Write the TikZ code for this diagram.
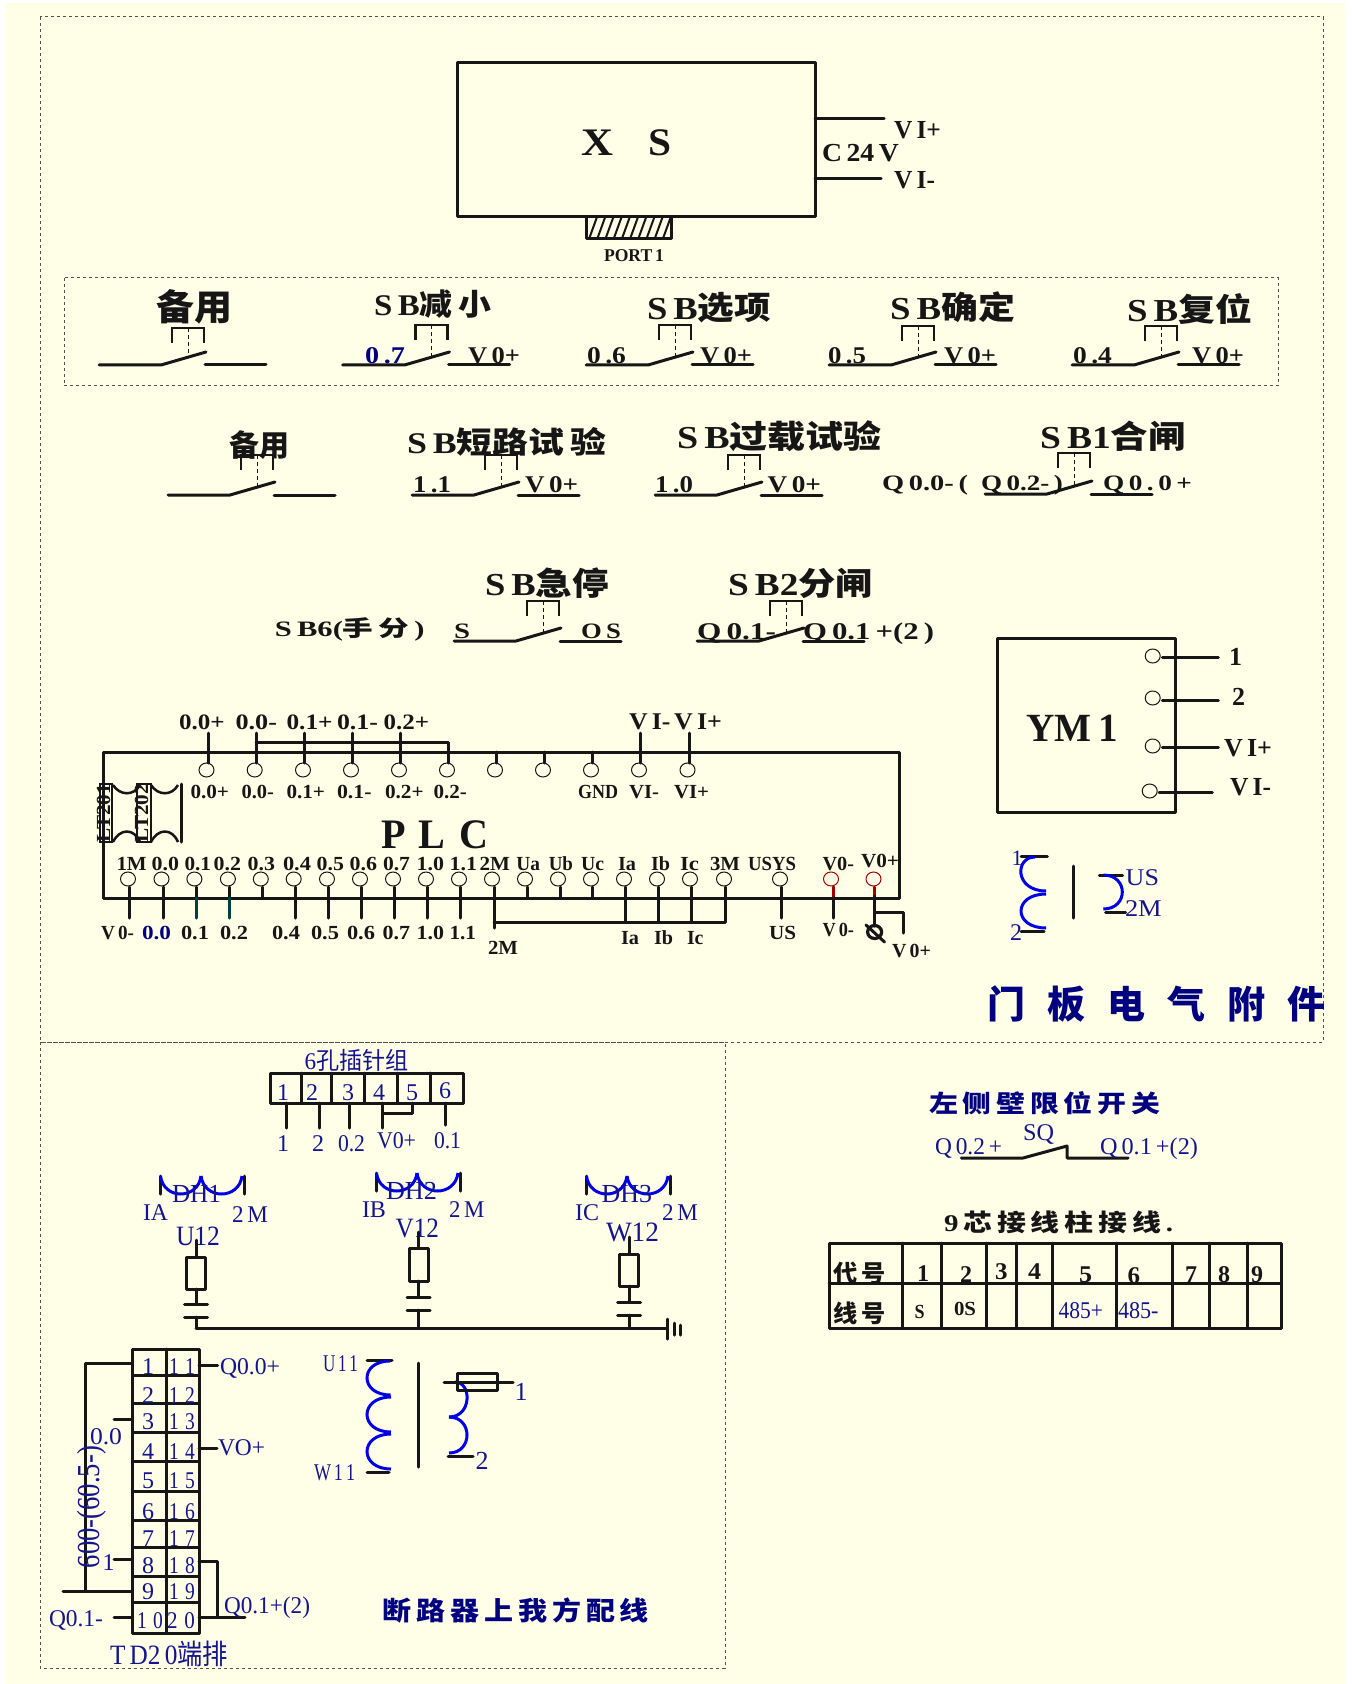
\documentclass[tikz,border=0pt]{standalone}
\usepackage{fontspec}
\usepackage{graphicx}
\setmainfont{Liberation Serif}
\newfontfamily\cjf{Noto Sans CJK SC}
\definecolor{bgc}{HTML}{FFFFE8}
\definecolor{ink}{HTML}{161616}
\definecolor{lblue}{HTML}{14148C}
\definecolor{navy}{HTML}{000080}
\definecolor{coilb}{HTML}{0000E6}
\definecolor{teal2}{HTML}{004040}
\definecolor{redh}{HTML}{A00000}
\newcommand\z[1]{{\cjf\bfseries #1}}
\newcommand\zr[1]{{\cjf\mdseries #1}}
\newcount\tcnt
\newcommand\tx[6][]{%
  \pgfmathsetmacro\tXc{(#2+#3)/2}%
  \pgfmathsetmacro\tYc{#4+0.33*#5}%
  \pgfmathsetmacro\tWd{(#3-#2)*0.5}%
  \pgfmathsetmacro\tFs{#5*0.5}%
  \global\advance\tcnt by 1
  \node[lab,#1] (t\the\tcnt) at (\tXc,\tYc) {\fontsize{\tFs pt}{\tFs pt}\selectfont\bfseries\resizebox{\tWd pt}{\height}{#6}};}
\newcommand\tu[5]{\tx[blu]{#1}{#2}{#3}{#4}{\mdseries #5}}
% switch: left x, line y, bracket top y
\newcommand\sw[3]{%
  \draw[wire] (#1,#2) -- ++(62,0) -- ++(45,-13);
  \draw[wire] (#1+106,#2) -- ++(61,0);
  \draw[thin2] (#1+73,#3+15) -- ++(0,-15) -- ++(32,0) -- ++(0,15);
  \draw[dsh] (#1+89,#3) -- (#1+89,#2-9);}
% coil bulging horizontally
\newcommand\coil[5]{%
  \pgfmathsetmacro\cC{(8*(#3)-(#1)-(#4))/6}%
  \draw[coil] (#1,#2) .. controls (\cC,#2) and (\cC,#5) .. (#4,#5);}
% bowl bulging vertically
\newcommand\bowl[4]{%
  \pgfmathsetmacro\cC{(8*(#4)-2*(#2))/6}%
  \draw[coil] (#1,#2) .. controls (#1+3,\cC) and (#3-3,\cC) .. (#3,#2);}
\tikzset{
  lab/.style={inner sep=0,anchor=base,text=ink},
  blu/.style={text=lblue},
  nav/.style={text=navy},
  wire/.style={draw=ink,line width=1.5pt,line cap=round,line join=round},
  thin2/.style={draw=ink,line width=1.25pt,line join=miter},
  dsh/.style={draw=ink,line width=.4pt,dash pattern=on 2pt off 1.5pt},
  frame/.style={draw=ink!75,line width=.5pt,dash pattern=on 1.5pt off 1.5pt},
  hole/.style={draw=ink,line width=.5pt},
  coil/.style={draw=coilb,line width=1.5pt},
}
\begin{document}
\begin{tikzpicture}[x=0.5pt,y=-0.5pt]
\useasboundingbox (0,0) rectangle (1352,1684);
\fill[white] (0,0) rectangle (1352,1684);
\fill[bgc] (5,3) rectangle (1345,1684);
% frames
\draw[frame] (40,17) rectangle (1323,1042);
\draw[frame] (40,1042) rectangle (725,1668);
\draw[frame] (64,278) rectangle (1278,386);
% XS
\draw[wire] (457,63) rectangle (815,217);
\draw[wire] (586,217) rectangle (671,239);
\foreach \i in {0,...,9} \draw[draw=ink,line width=1pt] (589+8.2*\i,239) -- (597+8.2*\i,217);
\draw[wire] (815,119) -- (884,119);
\draw[wire] (815,179) -- (881,179);
\tx{581}{613}{143}{39}{X}
\tx{648}{671}{143}{39}{S}
\tx{894}{941}{130}{26}{V\,I+}
\tx{822}{899}{153}{26}{C\,24\,V}
\tx{894}{935}{180}{26}{V\,I-}
\tx{604}{664}{256}{18}{PORT\,1}
% switches
\sw{99}{365}{328}
\sw{342.5}{365}{325}
\sw{586}{365}{325}
\sw{829}{365}{326}
\sw{1072}{365}{326}
\sw{168}{495}{455}
\sw{412}{495}{455}
\sw{655}{495}{455}
\sw{985}{494}{453}
\sw{454}{641}{601}
\sw{697}{641}{601}
% row 1 labels
\tx{156}{232}{309}{36}{\z{备用}}
\tx{374}{491}{306}{30}{S\,B\z{减\,小}}
\tx{647}{771}{309}{32}{S\,B\z{选项}}
\tx{890}{1015}{309}{32}{S\,B\z{确定}}
\tx{1127}{1252}{311}{32}{S\,B\z{复位}}
\tx[nav]{365}{405}{356}{24}{0\,.7}
\tx{468}{520}{356}{24}{V\,0+}
\tx{587}{626}{356}{24}{0\,.6}
\tx{700}{752}{356}{24}{V\,0+}
\tx{828}{866}{356}{24}{0\,.5}
\tx{944}{996}{356}{24}{V\,0+}
\tx{1073}{1112}{356}{24}{0\,.4}
\tx{1192}{1244}{356}{24}{V\,0+}
% row 2 labels
\tx{229}{289}{447}{30}{\z{备用}}
\tx{407}{606}{444}{30}{S\,B\z{短路试\,验}}
\tx{413}{451}{485}{24}{1\,.1}
\tx{525}{578}{485}{24}{V\,0+}
\tx{677}{882}{438}{32}{S\,B\z{过载试验}}
\tx{655}{693}{485}{24}{1\,.0}
\tx{767.5}{821}{485}{24}{V\,0+}
\tx{1040}{1186}{438}{32}{S\,B1\z{合闸}}
\tx{882}{968}{483}{22}{Q\,0.0-\,(}
\tx{981}{1063}{483}{22}{Q\,0.2-\,)}
\tx{1103}{1192}{483}{22}{Q\,0\,.\,0\,+}
% row 3 labels
\tx{485}{609}{585}{32}{S\,B\z{急停}}
\tx{728}{873}{585}{32}{S\,B2\z{分闸}}
\tx{275}{424.5}{629}{22}{S\,B6(\z{手\,分}\,)}
\tx{454}{470}{631}{22}{S}
\tx{581}{621}{631}{22}{O\,S}
\tx{697}{776}{632}{24}{Q\,0.1-}
\tx{803}{934}{632}{24}{Q\,0.1\,+(2\,)}
% PLC
\draw[wire] (103,752) rectangle (899,898);
\foreach \x in {206.5,254.7,303,351,399,447,495,543,591,639,687.5} {
  \draw[hole] (\x,770) ellipse [x radius=7.5,y radius=7];
  \draw[wire] (\x+1.5,752) -- (\x+1.5,763);
}
\foreach \x in {208,256,304.5,352.5,400.5,640.5,689} \draw[wire] (\x,733) -- (\x,752);
\draw[wire] (256,742) -- (448.5,742) -- (448.5,752);
\tx{179}{224.6}{722}{22}{0.0+}
\tx{235.5}{277}{722}{22}{0.0-}
\tx{286.5}{332.6}{722}{22}{0.1+}
\tx{337}{378}{722}{22}{0.1-}
\tx{383.6}{429}{722}{22}{0.2+}
\tx{629}{670.5}{722}{24}{V\,I-}
\tx{674}{722}{722}{24}{V\,I+}
\tx{190.5}{229}{792}{20}{0.0+}
\tx{241.6}{274}{792}{20}{0.0-}
\tx{286.5}{325}{792}{20}{0.1+}
\tx{337}{371.6}{792}{20}{0.1-}
\tx{385}{423.7}{792}{20}{0.2+}
\tx{433.6}{467}{792}{20}{0.2-}
\tx{578}{618}{792}{20}{GND}
\tx{629}{659}{792}{20}{VI-}
\tx{674}{709}{792}{20}{VI+}
\tx{381}{488}{835}{42}{P\,\,L\,\,C}
% left connectors
\draw[thin2] (100,784) rectangle (112,842);
\draw[thin2] (137,784) rectangle (151,842);
\draw[wire] (181,784) -- (181,842);
\draw[thin2] (113,785) .. controls (120,796) and (134,796) .. (140,785);
\draw[thin2] (151,785) .. controls (158,796) and (172,796) .. (178,785);
\draw[thin2] (113,842) .. controls (120,828) and (134,828) .. (140,842);
\draw[thin2] (151,842) .. controls (158,828) and (172,828) .. (178,842);
\node[lab,rotate=90] (p1) at (110,813) {\fontsize{10pt}{10pt}\selectfont\bfseries\resizebox{29pt}{\height}{LT201}};
\node[lab,rotate=90] (p2) at (148,813) {\fontsize{10pt}{10pt}\selectfont\bfseries\resizebox{29pt}{\height}{LT202}};
% lower holes
\foreach \x in {128,161.5,194.4,227.9,260.8,293.7,327,360,393,426,459,492,525,558,591,624,657,690,724,780}
  \draw[hole] (\x,879) ellipse [x radius=7.5,y radius=7];
\foreach \x in {831,873.5} \draw[hole,draw=redh] (\x,879) ellipse [x radius=7.5,y radius=7];
\foreach \x in {129.7,163,295,328,361,394.6,427.5,460.4,781,833} \draw[wire] (\x,887) -- (\x,918);
\foreach \x in {196,229} {\draw[wire] (\x,887) -- (\x,898); \draw[wire,draw=teal2] (\x,898) -- (\x,918);}
\foreach \x in {262.4,527,560,592.6} \draw[wire] (\x,887) -- (\x,898);
\draw[wire] (494,887) -- (494,928);
\foreach \x in {625.6,658.5,691.4,725} \draw[wire] (\x,887) -- (\x,922);
\draw[wire] (494,922) -- (725,922);
\draw[wire,draw=redh] (833,887) -- (833,896);
\draw[wire,draw=redh] (874.6,887) -- (874.6,896);
\draw[wire] (874.6,896) -- (874.6,926);
\draw[wire] (874.6,912) -- (903,912) -- (903,933);
\draw[draw=ink,line width=1.6pt] (874.6,932) ellipse [x radius=7,y radius=6.5];
\draw[wire] (866,925) -- (884.5,942);
\tx{116.5}{146.7}{864}{20}{1M}
\tx{151.6}{179}{864}{20}{0.0}
\tx{184.5}{211}{864}{20}{0.1}
\tx{213.6}{241}{864}{20}{0.2}
\tx{247.6}{275}{864}{20}{0.3}
\tx{283}{311}{864}{20}{0.4}
\tx{316.7}{344}{864}{20}{0.5}
\tx{349.6}{377}{864}{20}{0.6}
\tx{383}{410}{864}{20}{0.7}
\tx{416.6}{444}{864}{20}{1.0}
\tx{449.5}{477}{864}{20}{1.1}
\tx{479.6}{510}{864}{20}{2M}
\tx{516.4}{540}{864}{20}{Ua}
\tx{548.8}{573}{864}{20}{Ub}
\tx{581}{604}{864}{20}{Uc}
\tx{618}{636}{864}{20}{Ia}
\tx{651}{670}{864}{20}{Ib}
\tx{680}{699}{864}{20}{Ic}
\tx{710}{740}{864}{20}{3M}
\tx{748}{796}{864}{20}{USYS}
\tx{822.5}{854}{864}{20}{V0-}
\tx{861}{899}{861}{20}{V0+}
\tx{101}{134}{933}{20}{V\,0-}
\tx[nav]{142}{171}{933}{20}{0.0}
\tx{181}{209}{933}{20}{0.1}
\tx{220}{248}{933}{20}{0.2}
\tx{272}{300}{933}{20}{0.4}
\tx{311}{339}{933}{20}{0.5}
\tx{347}{375}{933}{20}{0.6}
\tx{382.5}{410}{933}{20}{0.7}
\tx{416.6}{444}{933}{20}{1.0}
\tx{449.5}{476}{933}{20}{1.1}
\tx{488}{518}{948}{20}{2M}
\tx{621}{639}{938}{20}{Ia}
\tx{654}{673}{938}{20}{Ib}
\tx{687}{703.5}{938}{20}{Ic}
\tx{769}{796}{933}{20}{US}
\tx{822.5}{854}{930}{20}{V\,0-}
\tx{892}{931}{951}{20}{V\,0+}
% YM1
\draw[wire] (997.7,638) rectangle (1175.7,812);
\foreach \x/\y in {1152.7/656,1152.7/698,1152.7/746,1149.7/791} \draw[hole] (\x,\y) ellipse [x radius=7.5,y radius=7];
\draw[wire] (1162.3,657) -- (1218.3,657);
\draw[wire] (1162.3,700) -- (1218.3,700);
\draw[wire] (1162.3,747) -- (1218.3,747);
\draw[wire] (1159,792) -- (1212.3,792);
\tx{1229}{1242}{657}{26}{1}
\tx{1232}{1245}{697}{26}{2}
\tx{1224}{1272}{748}{26}{V\,I+}
\tx{1230}{1271}{787}{26}{V\,I-}
\tx{1026.7}{1118}{728}{40}{YM\,1}
% small transformer
\draw[wire] (1021,856) -- (1047.3,856);
\draw[wire] (1021,931) -- (1044,931);
\coil{1035}{857}{1021}{1046}{891}
\coil{1046}{894}{1021}{1046}{928}
\draw[wire] (1073.3,866) -- (1073.3,918);
\draw[wire] (1099.3,875) -- (1122.7,875);
\draw[wire] (1105.7,912) -- (1125.7,912);
\coil{1103.3}{875}{1122.3}{1103.3}{909}
\tu{1011.5}{1022.5}{858}{22}{1}
\tu{1010}{1022}{933}{24}{2}
\tu{1125.7}{1159}{878}{24}{US}
\tu{1125}{1161.7}{909}{24}{2M}
\tx[nav]{987}{1325}{1006}{38}{\z{门\hspace{.58em}板\hspace{.58em}电\hspace{.58em}气\hspace{.58em}附\hspace{.58em}件}}
% 6-pin block
\draw[wire] (270.7,1073) rectangle (463.7,1103);
\foreach \x in {301,331.4,364,397,430} \draw[wire] (\x,1073) -- (\x,1103);
\foreach \x in {286,319,349,382.6} \draw[wire] (\x,1103) -- (\x,1128);
\draw[wire] (445.5,1103) -- (445.5,1125);
\draw[wire] (412,1103) -- (412,1113) -- (382.6,1113);
\tu{304.5}{408.6}{1062}{24}{6\zr{孔插针组}}
\tu{277}{289}{1093}{24}{1}
\tu{306}{318}{1093}{24}{2}
\tu{342}{354}{1093}{24}{3}
\tu{373}{385}{1093}{24}{4}
\tu{406}{418}{1093}{24}{5}
\tu{439}{451}{1091}{24}{6}
\tu{277}{289}{1144}{24}{1}
\tu{312}{324}{1144}{24}{2}
\tu{338}{365}{1144}{24}{0.2}
\tu{377}{416}{1141}{24}{V0+}
\tu{434}{461}{1141}{24}{0.1}
% current transformers
\foreach \x/\y in {160/1176,376/1173,586/1176} {
  \draw[wire] (\x,\y) -- (\x,\y+18);
  \draw[wire] (\x+84.5,\y) -- (\x+84.5,\y+18);
  \bowl{\x+.5}{\y}{\x+41}{\y+18}
  \bowl{\x+41}{\y}{\x+82}{\y+18}
}
\tu{172}{221}{1194}{26}{DH1}
\tu{143}{168}{1213}{24}{IA}
\tu{232}{268}{1215}{24}{2\,M}
\tu{176}{220}{1236}{28}{U12}
\tu{386}{437}{1191}{26}{DH2}
\tu{362}{386}{1210}{24}{IB}
\tu{449}{484.5}{1210}{24}{2\,M}
\tu{395.6}{439}{1228}{28}{V12}
\tu{601.6}{652}{1194}{26}{DH3}
\tu{575}{599}{1213}{24}{IC}
\tu{662}{698}{1213}{24}{2\,M}
\tu{606}{659}{1232}{28}{W12}
% resistors/caps
\foreach \x/\a/\b/\c/\d/\e in {196/1240/1257/1289/1304/1317,418.6/1232/1248/1281/1297/1310,629/1237/1254/1286/1302/1315} {
  \draw[wire] (\x,\a) -- (\x,\b);
  \draw[wire] (\x-9.5,\b) rectangle (\x+9.5,\c);
  \draw[wire] (\x,\c) -- (\x,\d);
  \draw[wire] (\x-11.5,\d) -- (\x+11.5,\d);
  \draw[wire] (\x-11.5,\e) -- (\x+11.5,\e);
  \draw[wire] (\x,\e) -- (\x,1328);
}
\draw[wire] (196,1328) -- (667.5,1328);
\draw[wire] (667.5,1319) -- (667.5,1339);
\draw[wire] (674,1323) -- (674,1335);
\draw[wire] (680.5,1325) -- (680.5,1335);
% terminal block
\draw[wire] (132.7,1349) rectangle (199,1633);
\draw[wire] (166,1349) -- (166,1633);
\foreach \y in {1375.7,1403,1432,1461,1491,1520,1547,1576,1602} \draw[wire] (132.7,\y) -- (199,\y);
\draw[wire] (131.7,1363) -- (85,1363) -- (85,1591);
\draw[wire] (63,1591) -- (132,1591);
\draw[wire] (114,1419) -- (132,1419);
\draw[wire] (114,1559) -- (132,1559);
\draw[wire] (114,1617) -- (132,1617);
\draw[wire] (199,1365) -- (217.7,1365);
\draw[wire] (199,1448) -- (217,1448);
\draw[wire] (199,1561) -- (217,1561) -- (217,1617);
\draw[wire] (199,1617) -- (245,1617);
\foreach \n/\y in {1/1367,2/1396,3/1422,4/1452,5/1481,6/1512,7/1539,8/1566,9/1592} {\tu{142}{154}{\y}{24}{\n}}
\tu{137}{163}{1621}{24}{1\,\,0}
\foreach \n/\y in {1\,\,1/1367,1\,\,2/1396,1\,\,3/1422,1\,\,4/1452,1\,\,5/1481,1\,\,6/1512,1\,\,7/1539,1\,\,8/1566,1\,\,9/1592} {\tu{169}{195}{\y}{24}{\n}}
\tu{167}{195}{1621}{24}{2\,\,0}
\tu{220}{280}{1367}{24}{Q0.0+}
\tu{218}{265}{1448}{24}{VO+}
\tu{224}{310}{1606}{24}{Q0.1+(2)}
\tu{49}{103}{1619}{24}{Q0.1-}
\tu{90}{122}{1437}{24}{0.0}
\tu{102.5}{114.5}{1563}{24}{1}
\node[lab,blu,rotate=90] (r1) at (99,1507) {\fontsize{16pt}{16pt}\selectfont\mdseries\resizebox{61pt}{\height}{600-(60.5-)}};
\tu{110}{228}{1655}{28}{T\,D2\,0\zr{端排}}
% big transformer
\draw[wire] (367,1360) -- (392,1360);
\draw[wire] (367,1472) -- (389,1472);
\coil{390}{1361}{367}{390.6}{1395}
\coil{391}{1397}{367}{391}{1432}
\coil{391}{1434}{367}{391}{1469}
\draw[wire] (418,1363) -- (418,1467);
\coil{455}{1382}{467}{449}{1417}
\coil{449}{1417}{467}{449}{1453}
\draw[wire] (457,1373) rectangle (497,1390);
\draw[wire] (444,1382) -- (513,1382);
\draw[wire] (448,1456) -- (473,1456);
\tu{323}{358}{1364}{24}{U\,1\,1}
\tu{314}{355}{1473}{24}{W\,1\,1}
\tu{514.5}{527.5}{1392}{26}{1}
\tu{475.5}{488.5}{1461}{26}{2}
\tx[nav]{383}{649}{1612}{26}{\z{断\,路\,器\,上\,我\,方\,配\,线}}
% limit switch
\tx[nav]{929}{1160}{1105}{24}{\z{左\,侧\,壁\,限\,位\,开\,关}}
\draw[wire] (961.4,1158) -- (1023,1158) -- (1067,1146) -- (1067,1158) -- (1128,1158);
\tu{1023}{1054}{1133}{24}{SQ}
\tu{935}{1002}{1147}{24}{Q\,0.2\,+}
\tu{1100}{1198}{1147}{24}{Q\,0.1\,+(2)}
% table
\tx{944}{1173}{1224}{24}{9\z{\,芯\,接\,线\,柱\,接\,线}\,.}
\draw[wire] (829,1243) rectangle (1281,1328);
\draw[wire] (829,1283) -- (1281,1283);
\foreach \x in {902,941,986,1016,1052,1116,1172,1209,1247} \draw[wire] (\x,1243) -- (\x,1328);
\tx{833.6}{886}{1275}{24}{\z{代\,号}}
\tx{833.6}{886}{1315}{24}{\z{线\,号}}
\tx{917}{929}{1274}{24}{1}
\tx{960}{972}{1275}{24}{2}
\tx{995}{1007.5}{1272}{24}{3}
\tx{1028}{1041}{1272}{24}{4}
\tx{1079}{1092}{1275}{24}{5}
\tx{1127.5}{1140}{1276}{24}{6}
\tx{1185}{1197}{1275}{24}{7}
\tx{1218}{1230}{1275}{24}{8}
\tx{1251}{1263}{1275}{24}{9}
\tx{914.6}{924.6}{1312}{20}{S}
\tx{954}{976}{1309}{20}{0S}
\tu{1058.6}{1103}{1311}{24}{485+}
\tu{1118}{1158.6}{1311}{24}{485-}
\end{tikzpicture}
\end{document}
